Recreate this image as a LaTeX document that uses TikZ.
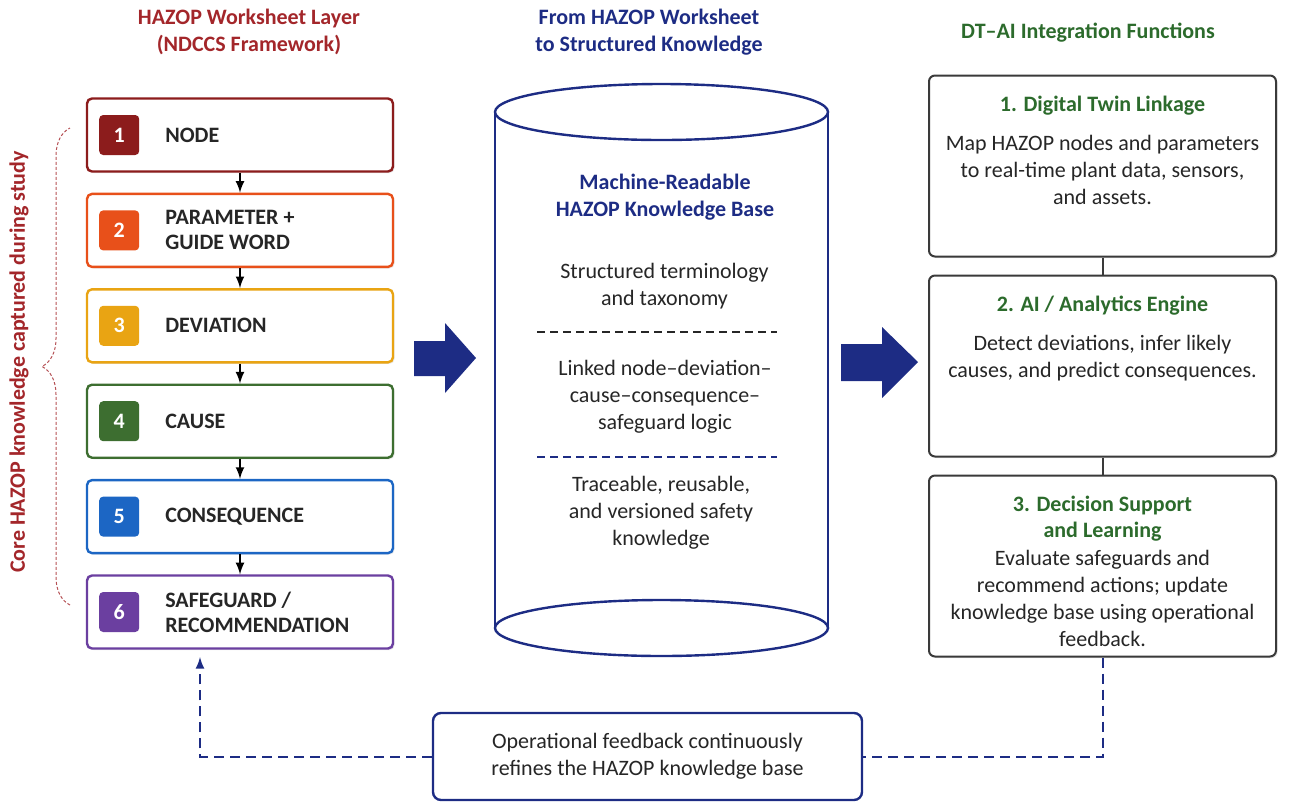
\documentclass[tikz,border=0pt]{standalone}
\usepackage{fontspec}
\setmainfont{Carlito}
\usetikzlibrary{positioning,shadows,decorations.pathreplacing}
\definecolor{hzred}{HTML}{A3262A}
\definecolor{hznavy}{HTML}{1D2C84}
\definecolor{hzgreen}{HTML}{2C6B2C}
\definecolor{hzink}{HTML}{262626}
\definecolor{hzgray}{HTML}{3A3A3A}
\definecolor{stepone}{HTML}{8C1C1C}
\definecolor{steptwo}{HTML}{E8501A}
\definecolor{stepthree}{HTML}{E9A413}
\definecolor{stepfour}{HTML}{3D6E30}
\definecolor{stepfive}{HTML}{1C66C4}
\definecolor{stepsix}{HTML}{6B3FA0}
\tikzset{>=latex}
\tikzset{
  wsbox/.style={draw=#1, line width=1.2pt, rounded corners=2.5pt, fill=white,
    minimum width=153pt, minimum height=36.5pt,
    drop shadow={opacity=0.18, shadow xshift=0.8pt, shadow yshift=-0.8pt}},
  badge/.style={fill=#1, rounded corners=2pt, minimum size=20pt, inner sep=0pt,
    text=white, font=\bfseries},
  wslabel/.style={align=left, text=hzink, font=\fontsize{11}{12.5}\selectfont\bfseries},
  wsflow/.style={->, line width=1pt, black},
  dtbox/.style={draw=hzgray, line width=1pt, rounded corners=3pt, fill=white,
    minimum width=173.5pt, minimum height=90.5pt,
    drop shadow={opacity=0.18, shadow xshift=0.8pt, shadow yshift=-0.8pt}},
  dttitle/.style={text=hzgreen, font=\bfseries, align=center},
  dttext/.style={text=hzink, align=center},
  cyl/.style={draw=hznavy, line width=1.2pt},
  kbtext/.style={text=hzink, align=center},
  kbrule/.style={dash pattern=on 4pt off 2.5pt, line width=0.8pt},
  bigarrow/.style={fill=hznavy},
  fbline/.style={draw=hznavy, line width=1pt, dash pattern=on 5pt off 3pt},
  fbbox/.style={draw=hznavy, line width=1.2pt, rounded corners=4pt, fill=white,
    minimum width=214.5pt, minimum height=43.5pt, text=hzink, align=center},
  header/.style={font=\bfseries, align=center},
}
\begin{document}
\fontsize{11}{13.5}\selectfont
\begin{tikzpicture}[x=0.5pt, y=-0.5pt]
  \useasboundingbox (0,0) rectangle (1292,810);

  % Headers
  \node[header, text=hzred]   (lhead) at (249,31.5) {HAZOP Worksheet Layer\\(NDCCS Framework)};
  \node[header, text=hznavy]  (mhead) at (649,32.5) {From HAZOP Worksheet\\to Structured Knowledge};
  \node[header, text=hzgreen] (rhead) at (1088,33)  {DT–AI Integration Functions};

  % Worksheet layer
  \node[wsbox=stepone]                         (node1)  at (240,135) {};
  \node[wsbox=steptwo,   below=10pt of node1]  (param2) {};
  \node[wsbox=stepthree, below=10pt of param2] (dev3)   {};
  \node[wsbox=stepfour,  below=10pt of dev3]   (cause4) {};
  \node[wsbox=stepfive,  below=10pt of cause4] (cons5)  {};
  \node[wsbox=stepsix,   below=10pt of cons5]  (safe6)  {};

  \node[badge=stepone,   right=6.5pt of node1.west]  (b1) {1};
  \node[badge=steptwo,   right=6.5pt of param2.west] (b2) {2};
  \node[badge=stepthree, right=6.5pt of dev3.west]   (b3) {3};
  \node[badge=stepfour,  right=6.5pt of cause4.west] (b4) {4};
  \node[badge=stepfive,  right=6.5pt of cons5.west]  (b5) {5};
  \node[badge=stepsix,   right=6.5pt of safe6.west]  (b6) {6};

  \node[wslabel, right=9pt of b1] (l1) {NODE};
  \node[wslabel, right=9pt of b2] (l2) {PARAMETER +\\GUIDE WORD};
  \node[wslabel, right=9pt of b3] (l3) {DEVIATION};
  \node[wslabel, right=9pt of b4] (l4) {CAUSE};
  \node[wslabel, right=9pt of b5] (l5) {CONSEQUENCE};
  \node[wslabel, right=9pt of b6] (l6) {SAFEGUARD /\\RECOMMENDATION};

  \draw[wsflow] (node1) -- (param2);
  \draw[wsflow] (param2) -- (dev3);
  \draw[wsflow] (dev3) -- (cause4);
  \draw[wsflow] (cause4) -- (cons5);
  \draw[wsflow] (cons5) -- (safe6);

  % Brace
  \draw[decorate, decoration={brace, amplitude=14pt}, hzred!80, line width=0.5pt,
    dash pattern=on 1.5pt off 1pt] (70,605) -- (70,128);
  \node[rotate=90, text=hzred, font=\bfseries] (core) at (19,362)
    {Core HAZOP knowledge captured during study};

  % Knowledge base cylinder
  \draw[cyl] (495,112) -- (495,628);
  \draw[cyl] (828,112) -- (828,628);
  \draw[cyl, fill=white] (661.5,112) ellipse [x radius=83.25pt, y radius=14pt];
  \draw[cyl] (661.5,628) ellipse [x radius=83.25pt, y radius=14pt];

  \node[kbtext, text=hznavy, font=\bfseries] (kbhead) at (665,197.5)
    {Machine-Readable\\HAZOP Knowledge Base};
  \node[kbtext] (kbterm) at (664.5,286) {Structured terminology\\and taxonomy};
  \draw[kbrule, hzink] (537,332) -- (777,332);
  \node[kbtext] (kblogic) at (665,397) {Linked node–deviation–\\cause–consequence–\\safeguard logic};
  \draw[kbrule, hznavy] (537,457) -- (777,457);
  \node[kbtext] (kbtrace) at (661,513) {Traceable, reusable,\\and versioned safety\\knowledge};

  % Block arrows
  \fill[bigarrow] (414,341) -- (445,341) -- (445,323) -- (476,358) -- (445,393) -- (445,376) -- (414,376) -- cycle;
  \fill[bigarrow] (841,344) -- (882,344) -- (882,327) -- (918,362) -- (882,398) -- (882,381) -- (841,381) -- cycle;

  % DT-AI functions
  \node[dtbox]                     (dt1) at (1102.5,166) {};
  \node[dtbox, below=8.5pt of dt1] (dt2) {};
  \node[dtbox, below=8.5pt of dt2] (dt3) {};
  \draw[hzgray, line width=1pt] (dt1) -- (dt2);
  \draw[hzgray, line width=1pt] (dt2) -- (dt3);

  \node[dttitle] (dt1t) at (1102.5,106) {1. Digital Twin Linkage};
  \node[dttext]  (dt1x) at (1102.5,170)
    {Map HAZOP nodes and parameters\\to real-time plant data, sensors,\\and assets.};
  \node[dttitle] (dt2t) at (1102.5,306) {2. AI / Analytics Engine};
  \node[dttext]  (dt2x) at (1102.5,358.5)
    {Detect deviations, infer likely\\causes, and predict consequences.};
  \node[dttitle, font=\fontsize{11}{13}\selectfont\bfseries] (dt3t) at (1102.5,519)
    {3. Decision Support\\and Learning};
  \node[dttext]  (dt3x) at (1102.5,598.5)
    {Evaluate safeguards and\\recommend actions; update\\knowledge base using operational\\feedback.};

  % Feedback loop
  \node[fbbox] (fb) at (647.5,756.5) {Operational feedback continuously\\refines the HAZOP knowledge base};
  \coordinate (fbin) at (200,657);
  \draw[fbline] (dt3.south) |- (fb.east);
  \draw[fbline, ->] (fb.west) -| (fbin);

\end{tikzpicture}
\end{document}
